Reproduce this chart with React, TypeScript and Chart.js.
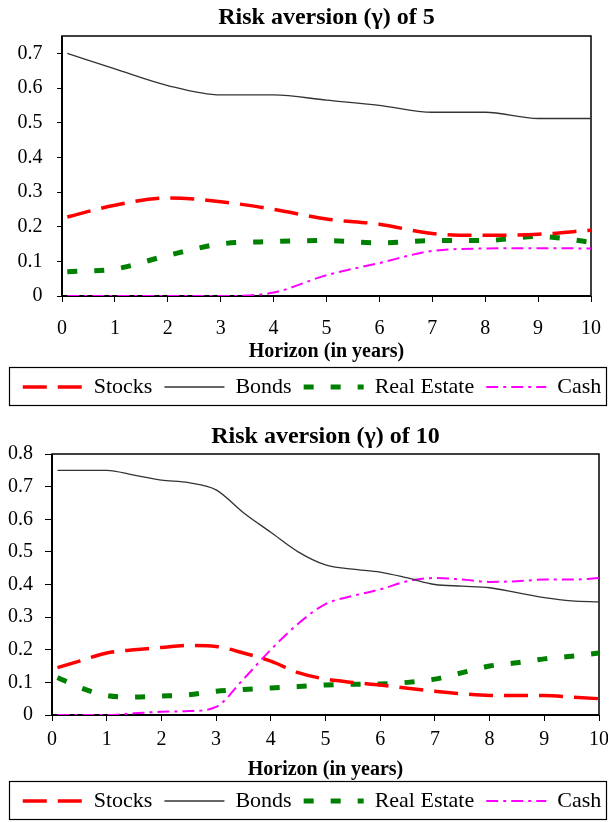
import React, { useEffect, useRef } from 'react';
import { Chart, registerables } from 'chart.js';

Chart.register(...registerables);

// ---------- data ----------
const seriesNames = ['Stocks', 'Bonds', 'Real Estate', 'Cash'];
const xTitle = 'Horizon (in years)';

// Panel 1: risk aversion 5
const title5 = 'Risk aversion (\u03B3) of 5';
const yTicks5 = [0, 0.1, 0.2, 0.3, 0.4, 0.5, 0.6, 0.7];
const yMax5 = 0.75;
const horizon5 = [0.1, 1, 2, 3, 4, 5, 6, 7, 8, 9, 10];
const stocks5 = [0.228, 0.262, 0.283, 0.272, 0.25, 0.222, 0.207, 0.18, 0.175, 0.178, 0.19];
const bonds5 = [0.7, 0.655, 0.607, 0.58, 0.58, 0.565, 0.55, 0.53, 0.53, 0.512, 0.512];
const realEstate5 = [0.07, 0.078, 0.117, 0.15, 0.157, 0.16, 0.153, 0.16, 0.16, 0.172, 0.155];
const cash5 = [0, 0, 0, 0, 0.01, 0.06, 0.095, 0.13, 0.137, 0.138, 0.137];

// Panel 2: risk aversion 10
const title10 = 'Risk aversion (\u03B3) of 10';
const yTicks10 = [0, 0.1, 0.2, 0.3, 0.4, 0.5, 0.6, 0.7, 0.8];
const yMax10 = 0.8;
const horizon10 = [0.1, 0.5, 1, 1.5, 2, 2.5, 3, 3.5, 4, 4.5, 5, 5.5, 6, 6.5, 7, 7.5, 8, 8.5, 9, 9.5, 10];
const stocks10 = [0.145, 0.165, 0.19, 0.2, 0.207, 0.213, 0.21, 0.19, 0.165, 0.13, 0.11, 0.1, 0.092, 0.082, 0.073, 0.065, 0.06, 0.06, 0.06, 0.055, 0.05];
const bonds10 = [0.75, 0.75, 0.75, 0.735, 0.72, 0.712, 0.69, 0.62, 0.56, 0.5, 0.46, 0.447, 0.438, 0.42, 0.4, 0.395, 0.39, 0.375, 0.36, 0.35, 0.347];
const realEstate10 = [0.115, 0.085, 0.06, 0.055, 0.058, 0.062, 0.073, 0.078, 0.083, 0.087, 0.092, 0.094, 0.095, 0.1, 0.11, 0.13, 0.15, 0.16, 0.172, 0.18, 0.19];
const cash10 = [0, 0, 0, 0.005, 0.01, 0.012, 0.025, 0.11, 0.2, 0.28, 0.34, 0.365, 0.385, 0.41, 0.42, 0.415, 0.408, 0.41, 0.415, 0.415, 0.42];

// ---------- styles ----------
const FONT = "'Liberation Serif', 'Times New Roman', serif";
const seriesStyles = [
  { color: '#FF0000', width: 3.5, dash: [24, 11] },
  { color: '#333333', width: 1.3, dash: [] as number[] },
  { color: '#008000', width: 5, dash: [10, 17] },
  { color: '#FF00FF', width: 2, dash: [12, 5, 3, 5] },
];

const CANVAS_W = 608;

interface Layout {
  height: number;
  titlePad: { top: number; bottom: number };
  leftW: number;
  rightW: number;
  yTickLen: number;
  yTickPad: number;
  xTickPad: number;
  xTitlePad: { top: number; bottom: number };
  bottomPad: number;
}

const framePlugin = {
  id: 'frameBox',
  beforeDatasetsDraw(chart: any) {
    const { ctx, chartArea: a } = chart;
    ctx.save();
    ctx.strokeStyle = '#000';
    ctx.lineWidth = 1.5;
    ctx.strokeRect(a.left, a.top, a.right - a.left, a.bottom - a.top);
    ctx.lineWidth = 2;
    ctx.beginPath();
    ctx.moveTo(a.left, a.top);
    ctx.lineTo(a.left, a.bottom);
    ctx.lineTo(a.right, a.bottom);
    ctx.stroke();
    ctx.restore();
  },
  afterDraw(chart: any) {
    const { ctx, legend } = chart;
    if (!legend) return;
    ctx.save();
    ctx.strokeStyle = '#000';
    ctx.lineWidth = 1.2;
    ctx.strokeRect(1.5, legend.top + 3.5, 597, 38);
    ctx.restore();
  },
};

function buildConfig(title: string, xs: number[], series: number[][], yTicks: number[], yMax: number, L: Layout): any {
  const datasets = series.map((vals, i) => ({
    label: seriesNames[i],
    data: xs.map((x, j) => ({ x, y: vals[j] })),
    borderColor: seriesStyles[i].color,
    backgroundColor: seriesStyles[i].color,
    borderWidth: seriesStyles[i].width,
    borderDash: seriesStyles[i].dash,
    pointRadius: 0,
    fill: false,
    cubicInterpolationMode: 'monotone',
    tension: 0.4,
  }));
  return {
    type: 'line',
    data: { datasets },
    options: {
      responsive: false,
      animation: false,
      events: [],
      layout: { padding: { left: 0, right: 0, top: 0, bottom: L.bottomPad } },
      plugins: {
        tooltip: { enabled: false },
        title: {
          display: true,
          text: title,
          fullSize: false,
          color: '#000',
          font: { family: FONT, size: 24, weight: 'bold', lineHeight: 20 / 24 },
          padding: L.titlePad,
        },
        legend: {
          display: true,
          position: 'bottom',
          labels: {
            usePointStyle: true,
            pointStyle: 'line',
            pointStyleWidth: 60,
            padding: 12,
            color: '#000',
            font: { family: FONT, size: 22, lineHeight: 1 },
            generateLabels: (chart: any) =>
              chart.data.datasets.map((ds: any, i: number) => ({
                text: ds.label,
                fillStyle: ds.borderColor,
                strokeStyle: ds.borderColor,
                lineWidth: ds.borderWidth,
                lineDash: ds.borderDash,
                lineDashOffset: 0,
                lineCap: 'butt',
                pointStyle: 'line',
                rotation: 0,
                hidden: false,
                datasetIndex: i,
                fontColor: '#000',
              })),
          },
        },
      },
      scales: {
        x: {
          type: 'linear',
          min: 0,
          max: 10,
          ticks: {
            stepSize: 1,
            padding: L.xTickPad,
            color: '#000',
            font: { family: FONT, size: 20, lineHeight: 1.2 },
            maxRotation: 0,
            autoSkip: false,
          },
          grid: {
            display: true,
            drawOnChartArea: false,
            drawTicks: true,
            tickLength: 6,
            color: '#000',
            tickColor: '#000',
          },
          border: { display: false },
          title: {
            display: true,
            text: xTitle,
            color: '#000',
            font: { family: FONT, size: 20, weight: 'bold', lineHeight: 1 },
            padding: L.xTitlePad,
          },
        },
        y: {
          type: 'linear',
          position: 'left',
          min: 0,
          max: yMax,
          ticks: {
            padding: L.yTickPad,
            color: '#000',
            font: { family: FONT, size: 20, lineHeight: 1.2 },
            callback: (v: any) => String(Math.round(Number(v) * 10) / 10),
          },
          grid: {
            display: true,
            drawOnChartArea: false,
            drawTicks: true,
            tickLength: L.yTickLen,
            color: '#000',
            tickColor: '#000',
          },
          border: { display: false },
          afterBuildTicks: (s: any) => {
            s.ticks = yTicks.map((v) => ({ value: v }));
          },
          afterFit: (s: any) => {
            s.width = L.leftW;
          },
        },
        yRight: {
          type: 'linear',
          position: 'right',
          display: true,
          ticks: { display: false },
          grid: { display: false },
          border: { display: false },
          afterFit: (s: any) => {
            s.width = L.rightW;
          },
        },
      },
    },
    plugins: [framePlugin],
  };
}

const layout5: Layout = {
  height: 406,
  titlePad: { top: 0, bottom: 8 },
  leftW: 54,
  rightW: CANVAS_W - 585,
  yTickLen: 5,
  yTickPad: 14.5,
  xTickPad: 15,
  xTitlePad: { top: -14, bottom: 2 },
  bottomPad: 6,
};

const layout10: Layout = {
  height: 412,
  titlePad: { top: 13, bottom: 7 },
  leftW: 44,
  rightW: CANVAS_W - 594,
  yTickLen: 7,
  yTickPad: 12,
  xTickPad: 7,
  xTitlePad: { top: 1, bottom: -2 },
  bottomPad: 4,
};

function Panel(props: { title: string; xs: number[]; series: number[][]; yTicks: number[]; yMax: number; layout: Layout }) {
  const ref = useRef<HTMLCanvasElement | null>(null);
  useEffect(() => {
    if (!ref.current) return;
    const chart = new Chart(
      ref.current,
      buildConfig(props.title, props.xs, props.series, props.yTicks, props.yMax, props.layout)
    );
    return () => chart.destroy();
  }, []);
  return (
    <canvas
      ref={ref}
      width={CANVAS_W}
      height={props.layout.height}
      style={{ display: 'block', width: CANVAS_W, height: props.layout.height }}
    />
  );
}

export default function App() {
  useEffect(() => {
    document.body.style.overflow = 'hidden';
    document.documentElement.style.overflow = 'hidden';
  }, []);
  return (
    <div style={{ width: CANVAS_W }}>
      <Panel
        title={title5}
        xs={horizon5}
        series={[stocks5, bonds5, realEstate5, cash5]}
        yTicks={yTicks5}
        yMax={yMax5}
        layout={layout5}
      />
      <Panel
        title={title10}
        xs={horizon10}
        series={[stocks10, bonds10, realEstate10, cash10]}
        yTicks={yTicks10}
        yMax={yMax10}
        layout={layout10}
      />
    </div>
  );
}
